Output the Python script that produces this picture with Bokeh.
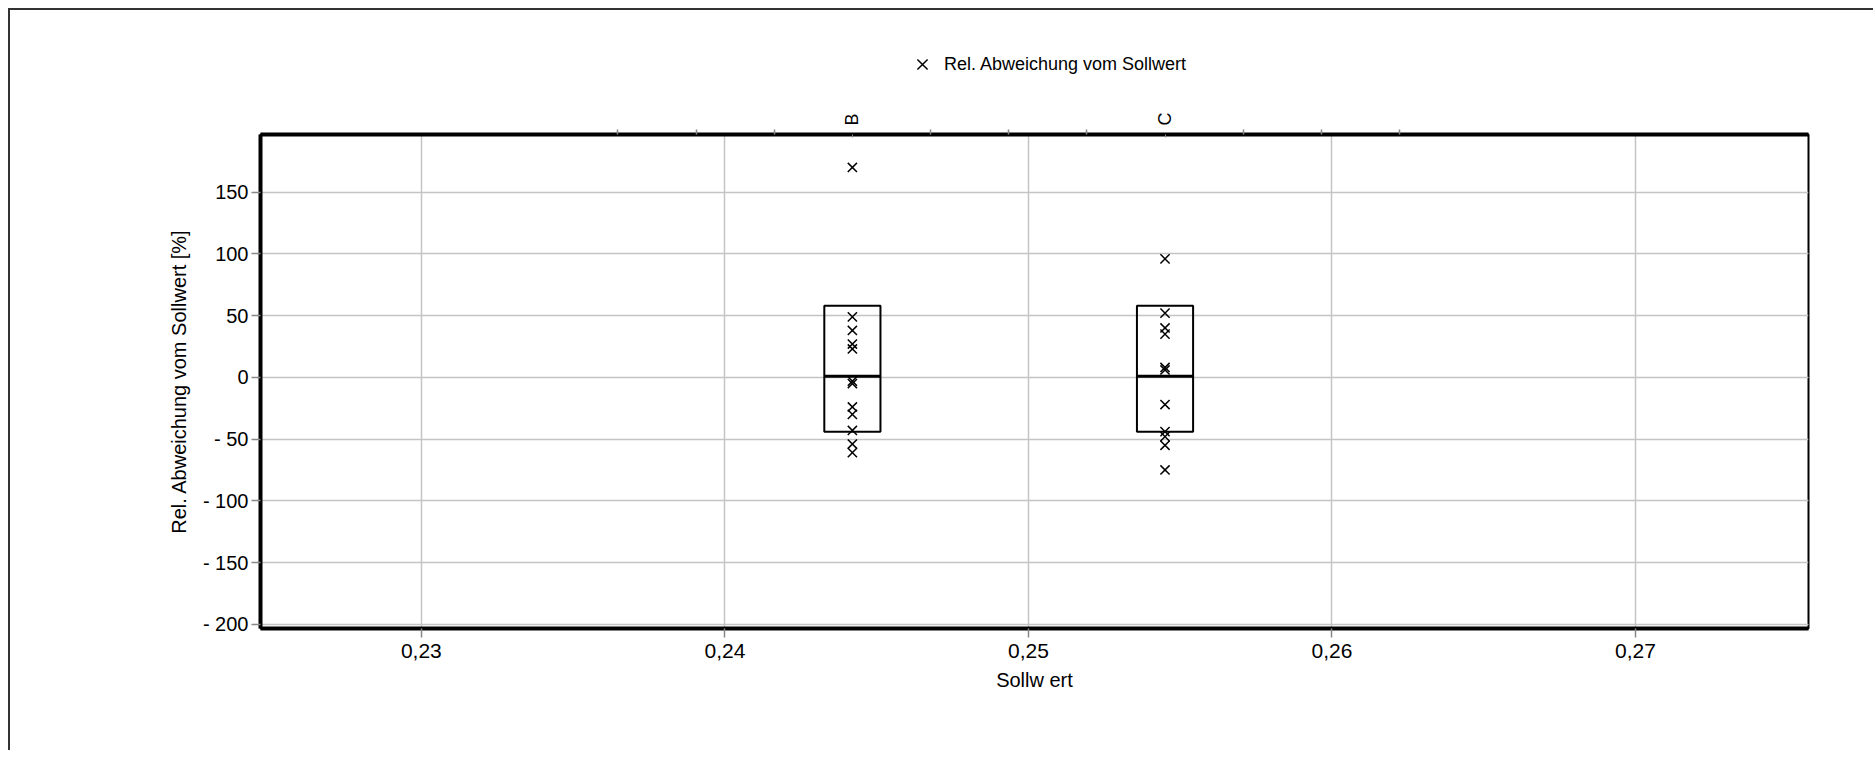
from bokeh.plotting import figure
from bokeh.layouts import column
from bokeh.models import (LinearAxis, FixedTicker, CustomJSTickFormatter, Legend,
                          LegendItem, Range1d, Grid, ColumnDataSource)
from bokeh.embed import file_html
from bokeh.resources import INLINE

# ---------------- data ----------------
groups = ["B", "C"]
sollwert = [0.2442, 0.2545]
dev_B = [170, 49, 38, 27, 23, -3, -5, -24, -30, -43, -54, -61]
dev_C = [96, 52, 40, 35, 8, 6, -22, -44, -48, -55, -75]
box_q1 = [-44, -44]
box_median = [1, 1]
box_q3 = [58, 58]
x_ticks = [0.23, 0.24, 0.25, 0.26, 0.27]
y_ticks = [-200, -150, -100, -50, 0, 50, 100, 150]
legend_label = "Rel. Abweichung vom Sollwert"
x_title = "Sollw ert"
y_title = "Rel. Abweichung vom Sollwert [%]"

FONT = "Liberation Sans"
BOX_W = 0.00185
MARKER = dict(marker="x", size=13, line_color="black", line_width=1.5)

pts_x = [sollwert[0]] * len(dev_B) + [sollwert[1]] * len(dev_C)
pts_y = dev_B + dev_C
pts = ColumnDataSource(dict(x=pts_x, y=pts_y))
boxes = ColumnDataSource(dict(
    left=[s - BOX_W / 2 for s in sollwert], right=[s + BOX_W / 2 for s in sollwert],
    q1=box_q1, q3=box_q3, med=box_median))

W = 1863
p = figure(width=W, height=650,
           x_range=Range1d(0.2247, 0.2757), y_range=Range1d(-203.4, 196.7),
           output_backend="svg", toolbar_location=None,
           x_axis_location=None, y_axis_location=None,
           min_border_left=250, min_border_top=34, min_border_right=65, min_border_bottom=122)
p.title.visible = False
p.background_fill_color = "white"
p.border_fill_color = "white"
p.outline_line_color = "black"
p.outline_line_width = 2

# bottom axis
xaxis = LinearAxis(ticker=FixedTicker(ticks=x_ticks),
                   formatter=CustomJSTickFormatter(code="return tick.toFixed(2).replace('.', ',');"),
                   axis_label=x_title)
# left axis
yaxis = LinearAxis(ticker=FixedTicker(ticks=y_ticks),
                   formatter=CustomJSTickFormatter(code="return tick < 0 ? '- ' + Math.abs(tick) : String(tick);"),
                   axis_label=y_title)
for ax in (xaxis, yaxis):
    ax.axis_line_color = "black"
    ax.axis_line_width = 4
    ax.major_tick_line_color = "#888888"
    ax.major_tick_line_width = 1.5
    ax.major_tick_out = 9
    ax.major_tick_in = 0
    ax.minor_tick_line_color = None
    ax.major_label_text_font = FONT
    ax.major_label_text_font_size = "20px"
    ax.major_label_text_color = "black"
    ax.axis_label_text_font = FONT
    ax.axis_label_text_font_size = "20px"
    ax.axis_label_text_font_style = "normal"
    ax.axis_label_text_color = "black"
xaxis.major_label_text_font_size = "21px"
xaxis.major_label_standoff = 6
xaxis.axis_label_standoff = 8
yaxis.major_label_standoff = 3
yaxis.axis_label_standoff = 10
p.add_layout(xaxis, "below")
p.add_layout(yaxis, "left")

# top category axis
step = (sollwert[1] - sollwert[0]) / 4
minor = [sollwert[0] + k * step for k in range(-3, 8) if k not in (0, 4)]
top = LinearAxis(ticker=FixedTicker(ticks=sollwert, minor_ticks=minor),
                 formatter=CustomJSTickFormatter(
                     args=dict(xs=sollwert, names=groups),
                     code="""let best=-1, d=1e9;
for (let i=0;i<xs.length;i++){const e=Math.abs(xs[i]-tick); if(e<d){d=e;best=i;}}
return d < 1e-6 ? names[best] : '';"""))
top.axis_line_color = "black"
top.axis_line_width = 4
top.major_tick_out = 0
top.major_tick_in = 3
top.major_tick_line_color = "#888888"
top.minor_tick_out = 5
top.minor_tick_in = 0
top.minor_tick_line_color = "#888888"
top.minor_tick_line_width = 1.5
top.major_label_orientation = "vertical"
top.major_label_standoff = 4
top.major_label_text_font = FONT
top.major_label_text_font_size = "18px"
top.major_label_text_color = "black"
p.add_layout(top, "above")

# grids
p.add_layout(Grid(dimension=0, ticker=xaxis.ticker, grid_line_color="#c4c4c4", grid_line_width=1.5))
p.add_layout(Grid(dimension=1, ticker=yaxis.ticker, grid_line_color="#c4c4c4", grid_line_width=1.5))

# boxes
p.quad(left="left", right="right", bottom="q1", top="q3", source=boxes,
       fill_color=None, line_color="black", line_width=2)
p.segment(x0="left", x1="right", y0="med", y1="med", source=boxes,
          line_color="black", line_width=3)

# points
p.scatter("x", "y", source=pts, **MARKER)

# legend strip above the chart (same series; its points fall outside this strip's ranges)
lg = figure(width=W, height=90, x_range=Range1d(0, 1), y_range=Range1d(1000, 1001),
            output_backend="svg", toolbar_location=None,
            x_axis_location=None, y_axis_location=None, min_border=0)
lg.title.visible = False
lg.outline_line_color = None
lg.xgrid.visible = False
lg.ygrid.visible = False
lg.background_fill_color = "white"
lg.border_fill_color = "white"
lg_r = lg.scatter("x", "y", source=pts, **MARKER)
legend = Legend(items=[LegendItem(label=legend_label, renderers=[lg_r])],
                location=(644, 18), orientation="horizontal")
legend.label_text_font = FONT
legend.label_text_font_size = "18px"
legend.label_text_color = "black"
legend.border_line_color = None
legend.background_fill_alpha = 0
legend.glyph_width = 36
legend.glyph_height = 36
legend.label_standoff = 4
legend.padding = 6
legend.margin = 0
lg.add_layout(legend, "center")

layout = column(lg, p, spacing=0, margin=(8, 0, 0, 8),
                styles={"border-left": "2px solid #333333", "border-top": "2px solid #333333"})

open("out.html", "w").write(file_html(layout, INLINE))
